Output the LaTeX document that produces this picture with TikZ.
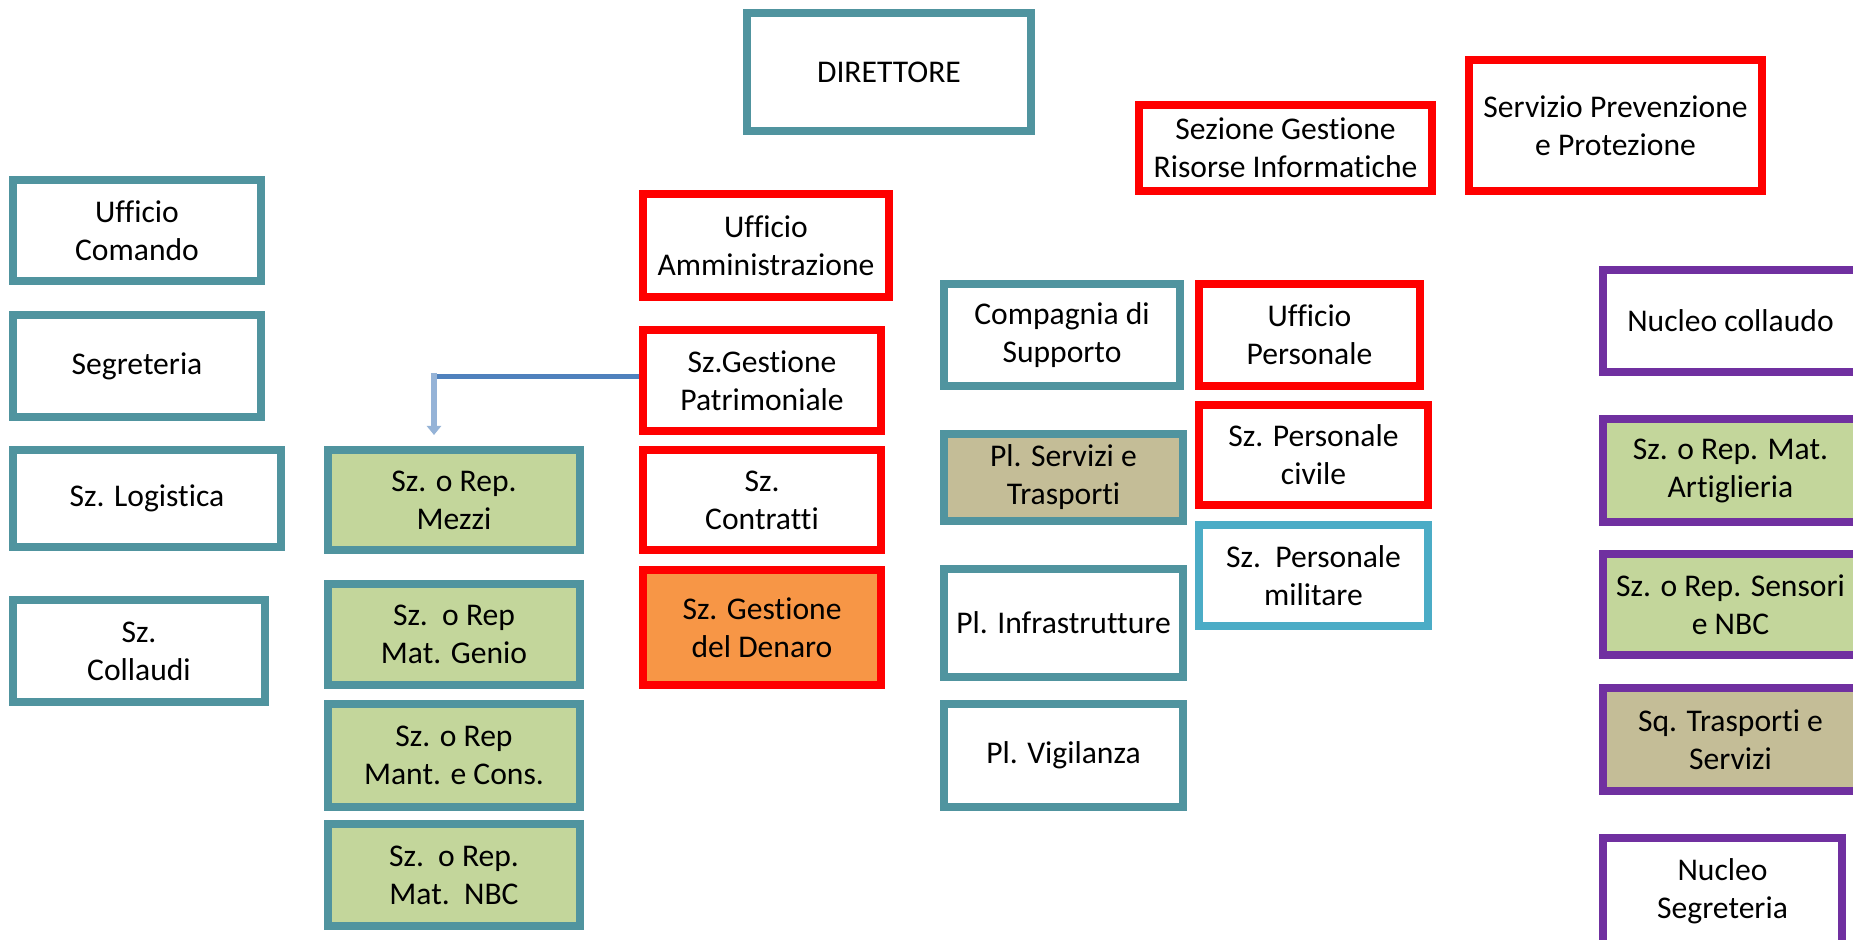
\documentclass[tikz,border=0pt]{standalone}
\usepackage{fontspec}
\setmainfont{Carlito}[Ligatures={NoCommon,NoContextual}]
\usetikzlibrary{arrows.meta}
\definecolor{unitteal}{RGB}{80,148,159}
\definecolor{unitred}{RGB}{255,0,0}
\definecolor{unitpurple}{RGB}{112,48,160}
\definecolor{unitblue}{RGB}{75,172,198}
\definecolor{repgreen}{RGB}{195,214,155}
\definecolor{reptan}{RGB}{196,189,151}
\definecolor{reporange}{RGB}{247,150,70}
\definecolor{linkdark}{RGB}{79,129,189}
\definecolor{linklight}{RGB}{149,179,215}
\tikzset{
		unit/.style={draw,line width=4pt,fill=white,inner sep=0pt,align=center,
			font=\fontsize{15.8pt}{19pt}\selectfont},
		teal unit/.style={unit,draw=unitteal},
		red unit/.style={unit,draw=unitred},
		purple unit/.style={unit,draw=unitpurple},
		blue unit/.style={unit,draw=unitblue},
		link/.style={line width=2.5pt,linkdark},
		drop link/.style={->,line width=3pt,linklight,shorten >=5.5pt}
	}

\begin{document}
\begin{tikzpicture}[x=0.5pt,y=-0.5pt,>={Triangle[width=7pt,length=4.5pt]}]
	\useasboundingbox (0,0) rectangle (1853,940);
	\clip (0,0) rectangle (1853,940);
	\fill[white] (0,0) rectangle (1853,940);

	% vertice
	\node[teal unit,minimum width=142pt,minimum height=59pt]  (dir)    at (889,72)      {DIRETTORE};
	\node[red unit,minimum width=146.5pt,minimum height=43pt] (sgri)   at (1285.5,148)  {Sezione Gestione\\Risorse Informatiche};
	\node[red unit,minimum width=146.5pt,minimum height=65.5pt] (spp)  at (1615.5,125.5) {Servizio Prevenzione\\e Protezione};

	% colonna comando
	\node[teal unit,minimum width=124pt,minimum height=50.5pt] (uffcom)   at (137,230.5) {Ufficio\\Comando};
	\node[teal unit,minimum width=124pt,minimum height=51pt]   (segr)     at (137,366)   {Segreteria};
	\node[teal unit,minimum width=134pt,minimum height=48.5pt] (logist)   at (147,498.5) {Sz. Logistica};
	\node[teal unit,minimum width=126pt,minimum height=51pt]   (collaudi) at (139,651)   {Sz.\\Collaudi};

	% reparti
	\node[teal unit,fill=repgreen,minimum width=126pt,minimum height=50pt]   (mezzi) at (454,500)   {Sz. o Rep.\\Mezzi};
	\node[teal unit,fill=repgreen,minimum width=126pt,minimum height=50.5pt] (genio) at (454,634.5) {Sz.\ \ o Rep\\Mat. Genio};
	\node[teal unit,fill=repgreen,minimum width=126pt,minimum height=51.5pt] (mant)  at (454,755.5) {Sz. o Rep\\Mant. e Cons.};
	\node[teal unit,fill=repgreen,minimum width=126pt,minimum height=51pt]   (nbc)   at (454,875)   {Sz.\ \ o Rep.\\Mat.\ \ NBC};

	% amministrazione
	\node[red unit,minimum width=123pt,minimum height=51.5pt] (amm)    at (766,245.5) {Ufficio\\Amministrazione};
	\node[red unit,minimum width=119pt,minimum height=50.5pt] (patr)   at (762,380.5) {Sz.Gestione\\Patrimoniale};
	\node[red unit,minimum width=119pt,minimum height=50pt]   (contr)  at (762,500)   {Sz.\\Contratti};
	\node[red unit,fill=reporange,minimum width=119pt,minimum height=57.5pt] (denaro) at (762,627.5) {Sz. Gestione\\del Denaro};

	% compagnia
	\node[teal unit,minimum width=118pt,minimum height=51pt]   (comp)    at (1062,335)     {Compagnia di\\Supporto};
	\node[teal unit,fill=reptan,minimum width=119.5pt,minimum height=43.5pt] (servizi) at (1063.5,477.5) {Pl. Servizi e\\Trasporti};
	\node[teal unit,minimum width=119.5pt,minimum height=54pt] (infra)   at (1063.5,623)   {Pl. Infrastrutture};
	\node[teal unit,minimum width=119.5pt,minimum height=51.5pt] (vigil) at (1063.5,755.5) {Pl. Vigilanza};

	% personale
	\node[red unit,minimum width=110.5pt,minimum height=51pt]  (uffpers)  at (1309.5,335)   {Ufficio\\Personale};
	\node[red unit,minimum width=114.5pt,minimum height=50pt]  (civile)   at (1313.5,455)   {Sz. Personale\\civile};
	\node[blue unit,minimum width=114.5pt,minimum height=50.5pt] (militare) at (1313.5,575.5) {Sz.\ \ Personale\\militare};

	% collaudo
	\node[purple unit,minimum width=127.5pt,minimum height=51pt] (nucoll) at (1730.5,321) {Nucleo collaudo};
	\node[purple unit,fill=repgreen,minimum width=127.5pt,minimum height=51.5pt] (artigl)  at (1730.5,470.5) {Sz. o Rep. Mat.\\Artiglieria};
	\node[purple unit,fill=repgreen,minimum width=127.5pt,minimum height=50.5pt] (sensori) at (1730.5,604.5) {Sz. o Rep. Sensori\\e NBC};
	\node[purple unit,fill=reptan,minimum width=127.5pt,minimum height=51.5pt]   (sqtrasp) at (1730.5,739.5) {Sq. Trasporti e\\Servizi};
	\node[purple unit,minimum width=119.5pt,minimum height=53pt] (nuseg) at (1722.5,891) {Nucleo\\Segreteria};

	\coordinate (elbow) at (434,377);
	\draw[link] (patr.west |- elbow) -- (elbow);
	\draw[drop link] ([yshift=2pt]elbow) -- (elbow |- mezzi.north);
\end{tikzpicture}
\end{document}
